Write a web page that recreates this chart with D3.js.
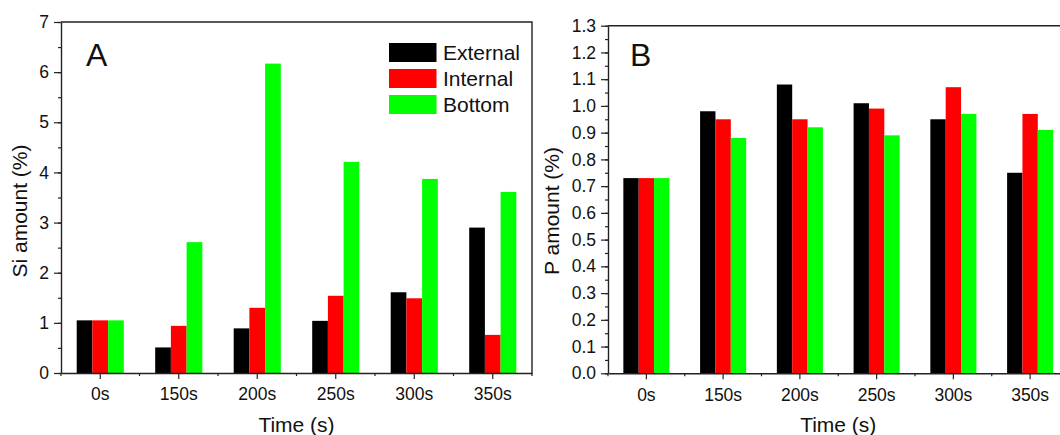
<!DOCTYPE html>
<html>
<head>
<meta charset="utf-8">
<script src="https://cdn.jsdelivr.net/npm/d3@7"></script>
<style>
  body { margin: 0; background: #fff; }
  svg { display: block; font-family: "Liberation Sans", Arial, sans-serif; }
  .domain { stroke: #222; stroke-width: 1.4; }
  .tick line { stroke: #222; stroke-width: 1.2; }
  .tick text { fill: #111; font-size: 17.5px; }
</style>
</head>
<body>
<div id="chart"></div>
<script>
"use strict";

// categories and series
var times = ["0s", "150s", "200s", "250s", "300s", "350s"];
var seriesNames = ["External", "Internal", "Bottom"];
var seriesColors = ["#000000", "#ff0000", "#00ff00"];

// Si amount (%) - panel A
var siExternal = [1.05, 0.51, 0.89, 1.04, 1.61, 2.90];
var siInternal = [1.05, 0.94, 1.30, 1.54, 1.49, 0.76];
var siBottom   = [1.05, 2.61, 6.17, 4.21, 3.87, 3.61];

// P amount (%) - panel B
var pExternal = [0.73, 0.98, 1.08, 1.01, 0.95, 0.75];
var pInternal = [0.73, 0.95, 0.95, 0.99, 1.07, 0.97];
var pBottom   = [0.73, 0.88, 0.92, 0.89, 0.97, 0.91];

var siTicks = [0, 1, 2, 3, 4, 5, 6, 7];
var pTicks = [0, 0.1, 0.2, 0.3, 0.4, 0.5, 0.6, 0.7, 0.8, 0.9, 1.0, 1.1, 1.2, 1.3];

var svg = d3.select("#chart").append("svg")
  .attr("width", 1060).attr("height", 435);

// draws one panel
var panel = function(opt) {
  var x = d3.scaleBand().domain(times).range([opt.left, opt.right]).padding(0);
  var inner = d3.scaleBand().domain(seriesNames)
    .range([x.bandwidth() * 0.2, x.bandwidth() * 0.8]);
  var y = d3.scaleLinear().domain([0, opt.max]).range([opt.bottom, opt.top]);

  var rows = [];
  times.forEach(function(t, i) {
    seriesNames.forEach(function(s, j) {
      rows.push({ time: t, name: s, color: seriesColors[j], value: opt.values[j][i] });
    });
  });

  var g = svg.append("g");

  // bars
  g.selectAll("rect.bar")
    .data(rows)
    .enter()
    .append("rect")
    .attr("class", "bar")
    .attr("x", function(d) { return x(d.time) + inner(d.name); })
    .attr("width", inner.bandwidth())
    .attr("y", function(d) { return y(d.value); })
    .attr("height", function(d) { return y(0) - y(d.value); })
    .style("fill", function(d) { return d.color; });

  // frame (top + right)
  g.append("path")
    .attr("d", "M" + opt.left + "," + opt.top + "H" + opt.right + "V" + opt.bottom)
    .attr("fill", "none").attr("stroke", "#222").attr("stroke-width", 1.4);

  // y axis, major + minor
  var minor = d3.range(0, opt.max + 1e-9, opt.step / 2);
  g.append("g")
    .attr("transform", "translate(" + opt.left + ",0)")
    .call(d3.axisLeft(y).tickValues(minor).tickSize(3).tickFormat("").tickSizeOuter(0))
    .select(".domain").remove();
  g.append("g")
    .attr("transform", "translate(" + opt.left + ",0)")
    .call(d3.axisLeft(y).tickValues(opt.ticks).tickSize(7).tickPadding(5)
      .tickSizeOuter(0).tickFormat(d3.format(opt.fmt)));

  // x axis, major at categories, minor between
  var edges = times.map(function(t) { return x(t); }).concat([opt.right]);
  g.selectAll("line.minor")
    .data(edges)
    .enter()
    .append("line")
    .attr("x1", function(d) { return d; }).attr("x2", function(d) { return d; })
    .attr("y1", opt.bottom).attr("y2", opt.bottom + 3)
    .attr("stroke", "#222").attr("stroke-width", 1.2);
  g.append("g")
    .attr("transform", "translate(0," + opt.bottom + ")")
    .call(d3.axisBottom(x).tickSize(6).tickPadding(9).tickSizeOuter(0));

  // titles
  g.append("text")
    .attr("x", (opt.left + opt.right) / 2).attr("y", 432)
    .attr("text-anchor", "middle").attr("font-size", 21).attr("fill", "#111")
    .text("Time (s)");
  g.append("text")
    .attr("transform", "translate(" + opt.ylabX + ",211) rotate(-90)")
    .attr("text-anchor", "middle").attr("font-size", 21).attr("fill", "#111")
    .text(opt.ylab);
  g.append("text")
    .attr("x", opt.left + opt.letterDx).attr("y", 66)
    .attr("font-size", 32).attr("fill", "#111")
    .text(opt.letter);

  return g;
};

var gA = panel({
  left: 61, right: 532, top: 22, bottom: 373, max: 7, step: 1,
  ticks: siTicks, fmt: "d", values: [siExternal, siInternal, siBottom],
  ylab: "Si amount (%)", ylabX: 27, letter: "A", letterDx: 25
});

panel({
  left: 608, right: 1068.5, top: 25.7, bottom: 373.3, max: 1.3, step: 0.1,
  ticks: pTicks, fmt: ".1f", values: [pExternal, pInternal, pBottom],
  ylab: "P amount (%)", ylabX: 559, letter: "B", letterDx: 22
});

// legend in panel A
var legend = gA.selectAll("g.legend")
  .data(seriesNames)
  .enter()
  .append("g")
  .attr("class", "legend")
  .attr("transform", function(d, i) { return "translate(389," + (43 + i * 26) + ")"; });
legend.append("rect")
  .attr("width", 47.5).attr("height", 19)
  .style("fill", function(d, i) { return seriesColors[i]; });
legend.append("text")
  .attr("x", 54).attr("y", 17)
  .attr("font-size", 21).attr("fill", "#111")
  .text(function(d) { return d; });
</script>
</body>
</html>
